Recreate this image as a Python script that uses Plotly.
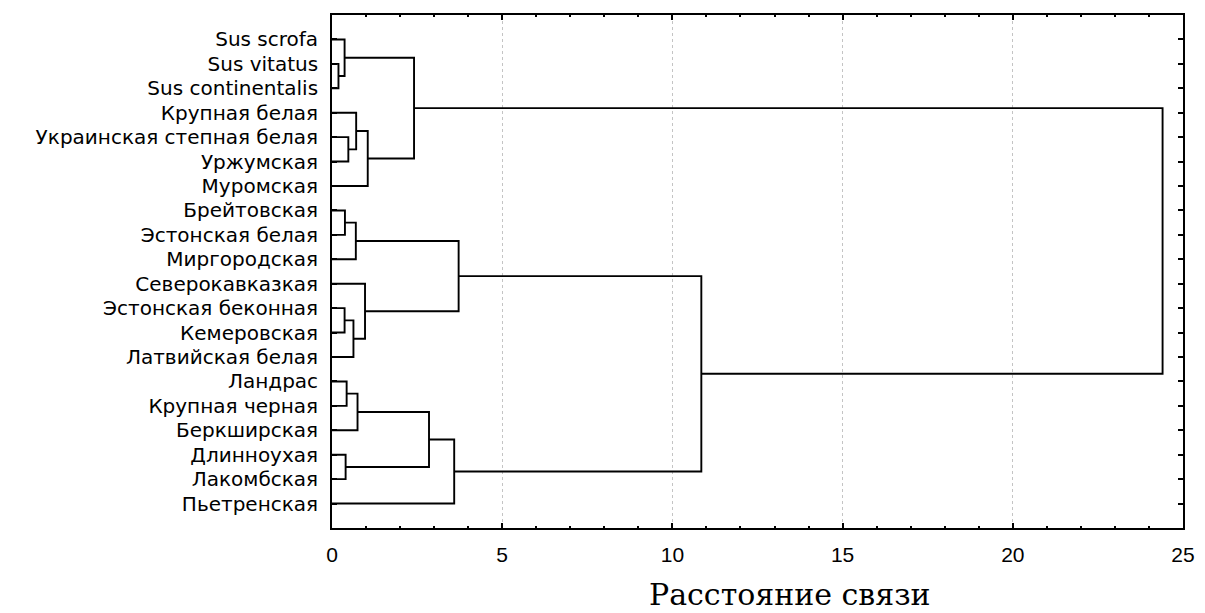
import plotly.graph_objects as go

# ---- data ----
labels = [
    "Sus scrofa", "Sus vitatus", "Sus continentalis", "Крупная белая",
    "Украинская степная белая", "Уржумская", "Муромская", "Брейтовская",
    "Эстонская белая", "Миргородская", "Северокавказкая", "Эстонская беконная",
    "Кемеровская", "Латвийская белая", "Ландрас", "Крупная черная",
    "Беркширская", "Длинноухая", "Лакомбская", "Пьетренская",
]
# linkage: (left, right, distance); ids >= 20 refer to earlier merges
merge_left = [1, 0, 4, 3, 23, 21, 7, 26, 11, 28, 10, 27, 14, 32, 17, 33, 35, 31, 25]
merge_right = [2, 20, 5, 22, 6, 24, 8, 9, 12, 13, 29, 30, 15, 16, 18, 34, 19, 36, 37]
merge_dist = [0.19, 0.37, 0.48, 0.71, 1.05, 2.41, 0.38, 0.70, 0.37, 0.63, 0.97,
              3.72, 0.43, 0.75, 0.40, 2.85, 3.59, 10.85, 24.4]
x_ticks = [0, 5, 10, 15, 20, 25]
x_title = "Расстояние связи"

# ---- build dendrogram segments ----
n = len(labels)
pos = {i: float(i) for i in range(n)}
hgt = {i: 0.0 for i in range(n)}
xs, ys = [], []
for k, (a, b, d) in enumerate(zip(merge_left, merge_right, merge_dist)):
    cid = n + k
    ya, yb = pos[a], pos[b]
    xs += [hgt[a], d, d, hgt[b], None]
    ys += [ya, ya, yb, yb, None]
    pos[cid] = (ya + yb) / 2
    hgt[cid] = d

fig = go.Figure()
fig.add_trace(go.Scatter(
    x=xs, y=ys, mode="lines",
    line=dict(color="black", width=1.9),
    hoverinfo="skip", showlegend=False,
))

fig.update_layout(
    width=1205, height=613,
    margin=dict(l=324, r=30, t=5, b=93),
    paper_bgcolor="white", plot_bgcolor="white",
    font=dict(family="DejaVu Sans, Arial, sans-serif", color="black"),
    xaxis=dict(
        range=[0, 25], tickvals=x_ticks,
        ticks="inside", ticklen=5, tickwidth=1.5, tickcolor="black",
        minor=dict(dtick=1, ticks="inside", ticklen=2.5, tickcolor="black", showgrid=False),
        showline=True, linecolor="black", linewidth=1.8, mirror="ticks",
        showgrid=True, gridcolor="#c4c4c4", griddash="dot", gridwidth=1,
        zeroline=False,
        tickfont=dict(family="Liberation Sans, Arial, sans-serif", size=21, color="black"),
        ticklabelstandoff=7,
    ),
    yaxis=dict(
        range=[20, -1], tickvals=list(range(n)), ticktext=labels,
        ticks="inside", ticklen=5, tickwidth=1.5, tickcolor="black",
        showline=True, linecolor="black", linewidth=1.8, mirror="ticks",
        showgrid=False, zeroline=False,
        tickfont=dict(family="DejaVu Sans, Arial, sans-serif", size=20, color="black"),
        ticklabelstandoff=8,
    ),
    annotations=[dict(
        text=x_title, xref="paper", yref="paper", x=0.538, y=-0.13,
        xanchor="center", yanchor="middle", showarrow=False,
        font=dict(family="DejaVu Serif, Liberation Serif, serif", size=30, color="black"),
    )],
)

fig.write_html("out.html")
